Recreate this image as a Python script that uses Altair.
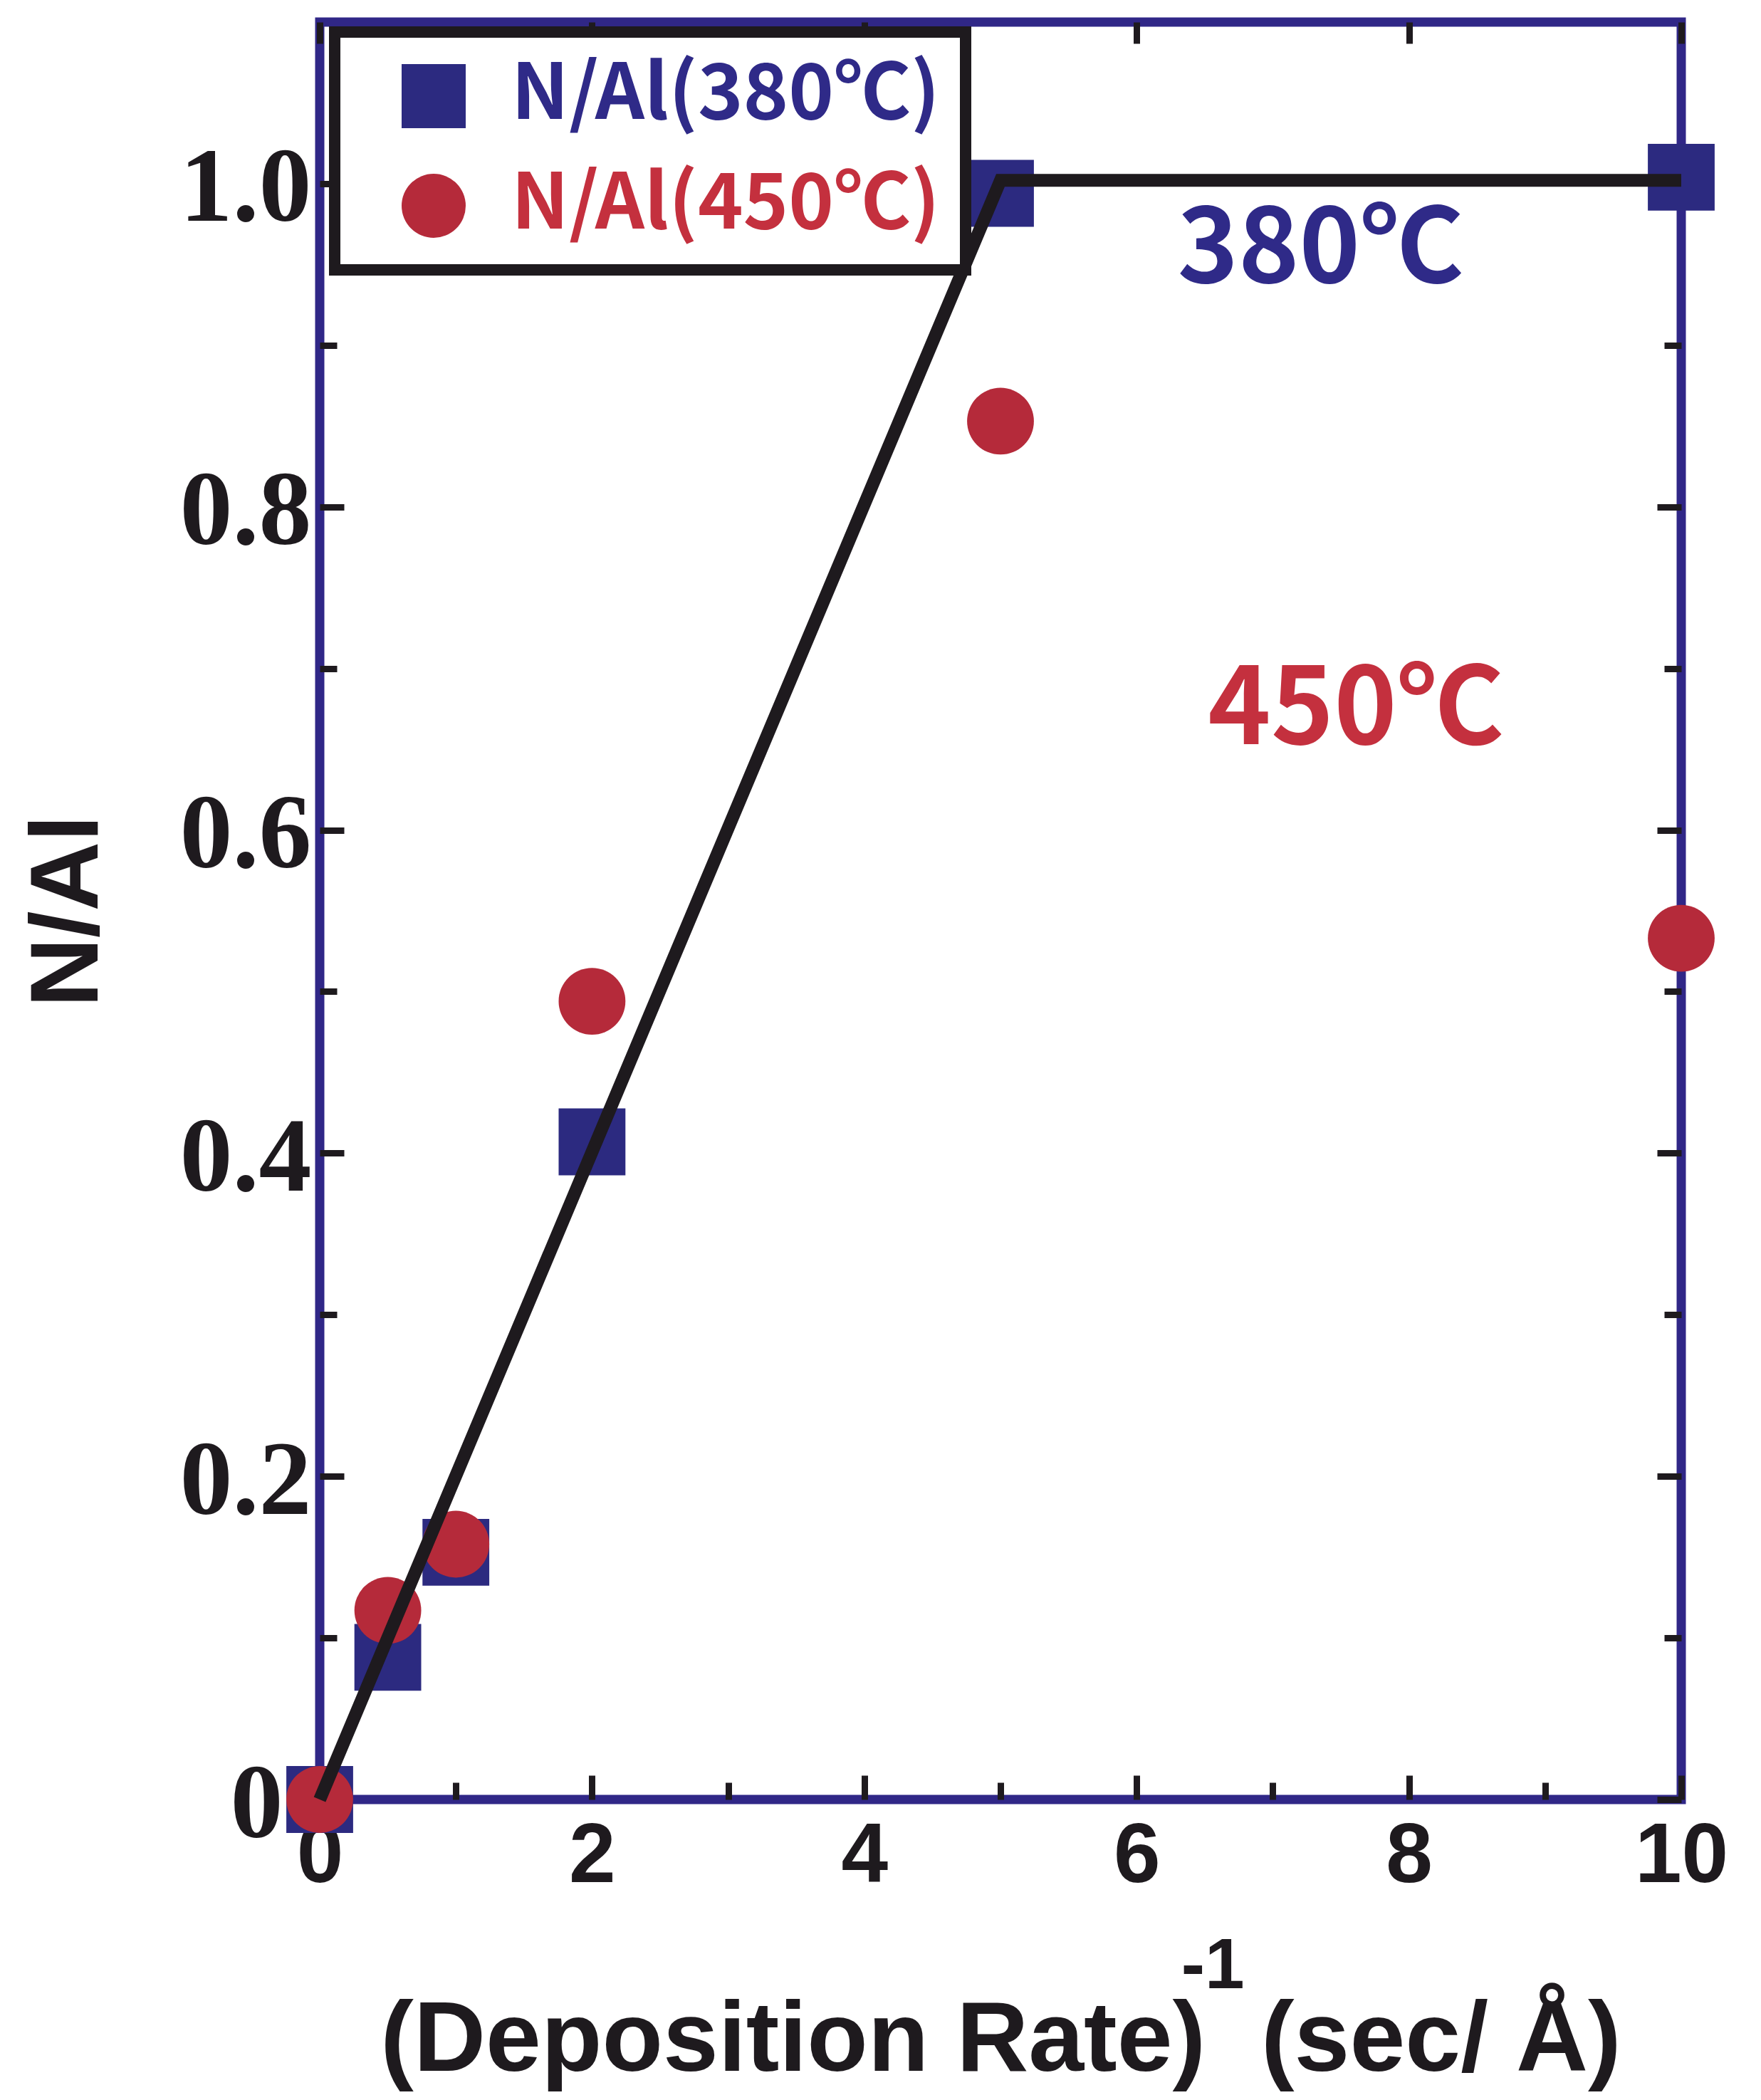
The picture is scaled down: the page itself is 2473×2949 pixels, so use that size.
import altair as alt
import pandas as pd

# ---- data ----
x_vals = [0, 0.5, 1, 2, 5, 10]
n_al_380 = [0, 0.088, 0.153, 0.407, 0.994, 1.004]
n_al_450 = [0, 0.117, 0.158, 0.494, 0.853, 0.533]
fit_x = [0, 5, 10]
fit_y = [0, 1.002, 1.002]
series_names = ["N/Al(380℃)", "N/Al(450℃)"]
series_colors = ["#2c2a80", "#b52a3a"]
series_shapes = ["square", "circle"]
x_ticks_major = [0, 2, 4, 6, 8, 10]
x_ticks_minor = [1, 3, 5, 7, 9]
y_ticks_major = [0, 0.2, 0.4, 0.6, 0.8, 1.0]
y_ticks_minor = [0.1, 0.3, 0.5, 0.7, 0.9]
annot_text = ["380℃", "450℃"]
annot_x = [7.35, 7.61]
annot_y = [0.958, 0.673]
annot_colors = ["#2f2a88", "#c4303e"]
sup_text = ["-1"]
sup_x = [6.56]
sup_y = [-0.117]

# ---- tables ----
pts_df = pd.DataFrame({
    "x": x_vals + x_vals,
    "y": n_al_380 + n_al_450,
    "series": [series_names[0]] * len(x_vals) + [series_names[1]] * len(x_vals),
})
line_df = pd.DataFrame({"x": fit_x, "y": fit_y})
a380_df = pd.DataFrame({"x": [annot_x[0]], "y": [annot_y[0]], "t": [annot_text[0]]})
a450_df = pd.DataFrame({"x": [annot_x[1]], "y": [annot_y[1]], "t": [annot_text[1]]})
sup_df = pd.DataFrame({"x": sup_x, "y": sup_y, "t": sup_text})

W, H = 1912, 2496
FRAME = "#302787"
INK = "#1e1a1e"
SANS = "Liberation Sans, DejaVu Sans, Noto Sans CJK JP"
CJK = "Noto Sans CJK JP, Liberation Sans"
SERIF = "Liberation Serif, DejaVu Serif"

xs = alt.Scale(domain=[0, 10], nice=False, zero=False)
ys = alt.Scale(domain=[0, 1.1], nice=False, zero=False)


def inward(orient, values, size, offset):
    return alt.Axis(orient=orient, offset=offset, values=values, labels=False,
                    domain=False, ticks=True, tickSize=size, tickWidth=9,
                    tickColor=INK, title=None, grid=False)


x_label_axis = alt.Axis(
    orient="bottom", values=x_ticks_major, format="d",
    labelFont=SANS, labelFontSize=118, labelFontWeight="bold", labelColor=INK,
    labelPadding=22, labelFlush=False, labelOverlap=False, labelLimit=1000,
    ticks=False, tickSize=0, domain=False, grid=False,
    title="(Deposition Rate)\u00a0\u00a0(sec/\u00a0Å)",
    titleFont=SANS, titleFontSize=140, titleFontWeight="bold", titleColor=INK,
    titlePadding=130, titleLimit=3000,
)
y_label_axis = alt.Axis(
    orient="left", values=y_ticks_major,
    labelExpr="datum.value == 0 ? '0' : format(datum.value, '.1f')",
    labelFont=SERIF, labelFontSize=148, labelFontWeight="bold", labelColor=INK,
    labelPadding={"condition": {"test": "datum.value == 0", "value": 52}, "value": 12},
    labelOffset=8, labelOverlap=False, labelLimit=1000,
    ticks=False, tickSize=0, domain=False, grid=False,
    title="N/Al", titleFont=SANS, titleFontSize=135, titleFontWeight="bold",
    titleColor=INK, titlePadding=88, titleLimit=3000,
)

leg = alt.Legend(
    title=None, orient="none", legendX=21, legendY=14, direction="vertical",
    symbolSize=8100, symbolStrokeWidth=0, symbolOffset=49,
    labelFont=CJK, labelFontSize=108, labelFontWeight="bold",
    labelColor=alt.ExprRef(expr="datum.label == 'N/Al(380℃)' ? '#2f2a88' : '#c4303e'"),
    labelOffset=55, labelLimit=2000, padding=36, rowPadding=46,
    fillColor="white", strokeColor=INK,
)

points = alt.Chart(pts_df).mark_point(filled=True, opacity=1, size=8800, strokeWidth=0).encode(
    x=alt.X("x:Q", scale=xs, axis=x_label_axis),
    y=alt.Y("y:Q", scale=ys, axis=y_label_axis),
    color=alt.Color("series:N", scale=alt.Scale(domain=series_names, range=series_colors), legend=leg),
    shape=alt.Shape("series:N", scale=alt.Scale(domain=series_names, range=series_shapes), legend=leg),
)

line = alt.Chart(line_df).mark_line(color=INK, strokeWidth=18).encode(
    x=alt.X("x:Q", scale=xs, axis=inward("top", x_ticks_major, 34, -H)),
    y=alt.Y("y:Q", scale=ys, axis=inward("right", y_ticks_major, 34, -W)),
)

t380 = alt.Chart(a380_df).mark_text(
    font=CJK, fontSize=145, fontWeight="bold", color=annot_colors[0],
    align="center", baseline="middle",
).encode(
    x=alt.X("x:Q", scale=xs, axis=inward("top", x_ticks_minor, 24, -H)),
    y=alt.Y("y:Q", scale=ys, axis=inward("right", y_ticks_minor, 24, -W)),
    text="t:N",
)

t450 = alt.Chart(a450_df).mark_text(
    font=CJK, fontSize=150, fontWeight="bold", color=annot_colors[1],
    align="center", baseline="middle",
).encode(
    x=alt.X("x:Q", scale=xs, axis=inward("bottom", x_ticks_major, 30, -H)),
    y=alt.Y("y:Q", scale=ys, axis=inward("left", y_ticks_major, 34, -W)),
    text="t:N",
)

sup = alt.Chart(sup_df).mark_text(
    font=SANS, fontSize=100, fontWeight="bold", color=INK,
    align="center", baseline="alphabetic",
).encode(
    x=alt.X("x:Q", scale=xs, axis=None),
    y=alt.Y("y:Q", scale=ys, axis=inward("left", y_ticks_minor, 24, -W)),
    text="t:N",
)

chart = alt.layer(points, line, t380, t450, sup).resolve_axis(
    x="independent", y="independent"
).properties(
    width=W, height=H,
    autosize=alt.AutoSizeParams(type="none"),
    padding={"left": 441, "top": 23, "right": 104, "bottom": 414},
).configure_view(
    stroke=FRAME, strokeWidth=13
).configure_legend(
    strokeWidth=16
)

chart.save("out.html", embed_options={"renderer": "svg", "actions": False})
